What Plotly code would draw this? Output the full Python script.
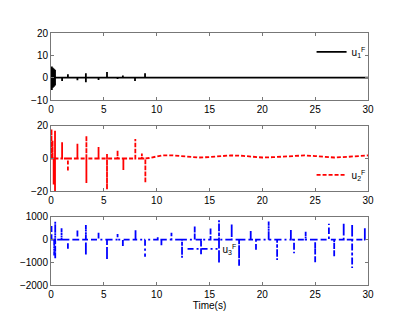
import plotly.graph_objects as go
from plotly.subplots import make_subplots

# ---- data ----
# u1: spike events (time, positive peak, negative peak)
u1_t   = [0.08, 0.18, 0.28, 0.38, 1.05, 1.6, 2.5, 3.3, 4.5, 5.3, 6.3, 6.8, 7.95, 8.9]
u1_pos = [5.0, 4.5, 4.0, 3.5, 0.0, 1.5, 0.0, 2.0, 0.0, 2.5, 0.0, 1.0, 0.0, 2.0]
u1_neg = [-5.5, -4.5, -4.0, -3.5, -1.5, 0.0, -1.2, -2.0, -1.0, 0.0, -0.6, 0.0, -1.5, 0.0]

# u2: spike events then slow oscillation after ~9.5 s
u2_t   = [0.05, 0.15, 0.25, 0.38, 1.05, 1.6, 2.5, 3.35, 4.5, 5.3, 6.3, 6.85, 7.98, 8.6, 8.93]
u2_pos = [18.0, 11.0, 0.0, 17.0, 10.0, 0.0, 9.0, 14.0, 7.0, 3.0, 5.0, 0.0, 12.0, 3.0, 0.0]
u2_neg = [0.0, 0.0, -16.0, -20.0, 0.0, -8.0, 0.0, -15.0, 0.0, -19.0, 0.0, -7.0, 0.0, 0.0, -15.0]
u2_smooth_t = [9.3, 9.7, 10.0, 10.5, 11.5, 12.5, 13.5, 14.0, 15.0, 16.0, 17.0, 18.0, 19.0,
               20.0, 21.0, 22.0, 23.0, 24.0, 25.0, 26.0, 26.8, 28.0, 29.0, 30.0]
u2_smooth_v = [0.3, 0.8, 1.5, 1.9, 1.9, 1.4, 0.8, 0.6, 0.9, 1.5, 1.9, 1.7, 1.0,
               0.6, 0.8, 1.3, 1.8, 1.9, 1.5, 0.9, 0.6, 1.0, 1.6, 1.9]

# u3: spike events
u3_t   = [0.05, 0.3, 0.4, 1.0, 1.6, 2.5, 3.3, 4.5, 5.3, 6.3, 6.8, 8.0, 8.9, 10.1, 10.45,
          11.4, 12.4, 13.6, 14.2, 15.1, 15.9, 17.1, 17.8, 18.9, 19.4, 20.6, 21.4, 22.7,
          23.0, 24.1, 25.0, 26.3, 26.8, 27.7, 28.5, 29.7]
u3_pos = [600, 0, 800, 500, 0, 400, 650, 300, 0, 250, 0, 450, 0, 150, 0,
          300, 0, 600, 0, 500, 850, 700, 0, 450, 0, 800, 0, 450,
          0, 350, 0, 700, 0, 750, 700, 550]
u3_neg = [0, -700, -850, 0, -400, 0, -700, 0, -900, 0, -300, 0, -750, 0, -300,
          0, -800, 0, -650, 0, -1050, 0, -1150, 0, -450, 0, -900, 0,
          -600, 0, -1000, 0, -750, 0, -1250, 0]


def spikes(ts, pos, neg, end=None):
    xs, ys = [0.0], [0.0]
    for t, p, n in zip(ts, pos, neg):
        xs += [t, t, t, t]
        ys += [0.0, p, n, 0.0]
    if end is not None:
        xs.append(end)
        ys.append(0.0)
    return xs, ys


x1, y1 = spikes(u1_t, u1_pos, u1_neg, 30)
x2, y2 = spikes(u2_t, u2_pos, u2_neg)
x2 += u2_smooth_t
y2 += u2_smooth_v
x3, y3 = spikes(u3_t, u3_pos, u3_neg, 30)

fig = make_subplots(rows=3, cols=1)

fig.add_trace(go.Scatter(x=x1, y=y1, mode="lines", name="u<sub>1</sub><sup>F</sup>",
                         line=dict(color="black", width=1.8), legend="legend"), row=1, col=1)
fig.add_trace(go.Scatter(x=x2, y=y2, mode="lines", name="u<sub>2</sub><sup>F</sup>",
                         line=dict(color="red", width=1.8, dash="4px,2px"), legend="legend2"), row=2, col=1)
fig.add_trace(go.Scatter(x=x3, y=y3, mode="lines", name="u<sub>3</sub><sup>F</sup>",
                         line=dict(color="blue", width=1.8, dash="6px,3px,2px,3px"), legend="legend3"), row=3, col=1)

# page body has an 8px margin; size the figure so the plot areas land where the reference has them
W, H = 406, 325
ml, mr, mt, mb = 43, 46, 25, 48
fig.update_layout(
    width=W, height=H,
    margin=dict(l=ml, r=mr, t=mt, b=mb),
    paper_bgcolor="white", plot_bgcolor="white",
    font=dict(family="Liberation Sans, Arial, sans-serif", size=10, color="black"),
    showlegend=True,
)

ax_common = dict(showline=True, linecolor="#777", linewidth=1, mirror="ticks",
                 ticks="inside", ticklen=3, tickcolor="#777", showgrid=False,
                 zeroline=False, tickfont=dict(size=10))
domains = [[0.734, 1.0], [0.373, 0.631], [0.0, 0.270]]
yranges = [[-10, 20], [-20, 20], [-2000, 1000]]
yticks = [[-10, 0, 10, 20], [-20, 0, 20], [-2000, -1000, 0, 1000]]
for i in range(3):
    fig.update_xaxes(range=[0, 30], tickvals=[0, 5, 10, 15, 20, 25, 30], row=i + 1, col=1, **ax_common)
    fig.update_yaxes(range=yranges[i], tickvals=yticks[i], domain=domains[i], row=i + 1, col=1, **ax_common)
fig.update_xaxes(title=dict(text="Time(s)", font=dict(size=10), standoff=2), row=3, col=1)

leg_common = dict(bgcolor="rgba(255,255,255,0)", borderwidth=0, font=dict(size=10),
                  xanchor="left", yanchor="middle", itemwidth=30, tracegroupgap=0)
fig.update_layout(
    legend=dict(x=0.822, y=0.925, **leg_common),
    legend2=dict(x=0.822, y=0.437, **leg_common),
    legend3=dict(x=0.415, y=0.143, **leg_common),
)

fig.write_html("out.html")
